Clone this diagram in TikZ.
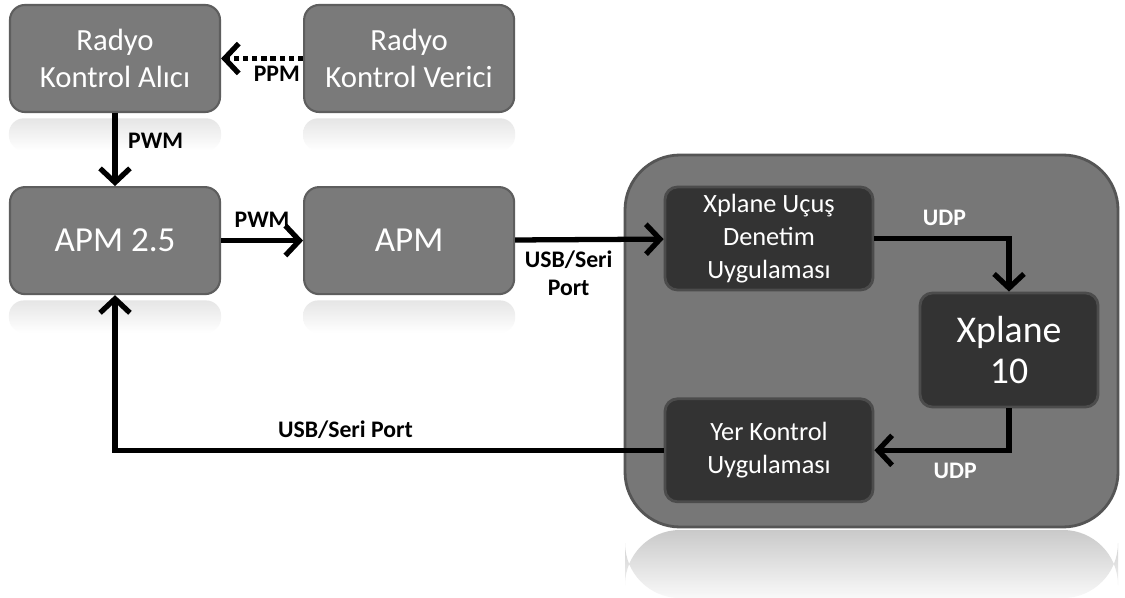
\documentclass[tikz,border=0pt]{standalone}
\usepackage{fontspec}
\setmainfont{Carlito}
\usetikzlibrary{positioning,arrows.meta}
\definecolor{boxgray}{HTML}{7A7A7A}
\definecolor{edgegray}{HTML}{5E5E5E}
\definecolor{panelgray}{HTML}{777777}
\definecolor{paneledge}{HTML}{555555}
\definecolor{appgray}{HTML}{333333}
\definecolor{appedge}{HTML}{4C4C4C}
\tikzstyle{blk}=[rectangle,draw=edgegray,line width=1.2pt,rounded corners=0.3cm,fill=boxgray,text=white,align=center,minimum width=4.2cm,minimum height=2.14cm,font=\fontsize{17.5}{21.5}\selectfont]
\tikzstyle{bigblk}=[blk,font=\fontsize{20}{24}\selectfont]
\tikzstyle{panel}=[rectangle,draw=paneledge,line width=1.6pt,rounded corners=1.1cm,fill=panelgray,minimum width=9.86cm,minimum height=7.44cm]
\tikzstyle{app}=[rectangle,draw=appedge,line width=1.6pt,rounded corners=0.25cm,fill=appgray,text=white,align=center,minimum width=4.16cm,minimum height=2.06cm,font=\fontsize{15}{18.7}\selectfont]
\tikzstyle{sim}=[app,minimum width=3.56cm,minimum height=2.28cm,font=\fontsize{21.5}{23.5}\selectfont]
\tikzstyle{arr}=[-{Straight Barb[length=8pt,width=17pt]},line width=3pt]
\tikzstyle{lbl}=[font=\fontsize{13.5}{16}\selectfont\bfseries,align=center,inner sep=1pt]
\tikzstyle{refl}=[rounded corners=0.3cm,top color=gray!20,bottom color=white]

\begin{document}
\begin{tikzpicture}[node distance=1.64cm]
\useasboundingbox[fill=white] (0,0) rectangle (22.5,-11.96);
\node[blk] (alici) at (2.3,-1.17) {Radyo\\Kontrol Alıcı};
\node[blk, right=of alici] (verici) {Radyo\\Kontrol Verici};
\node[bigblk, below=1.46cm of alici] (apm25) {APM 2.5};
\node[bigblk, right=of apm25] (apm) {APM};
\foreach \b in {alici,verici,apm25,apm}
  \shade[refl] ([yshift=-3pt]\b.south west) rectangle ([yshift=-0.75cm]\b.south east);
\shade[rounded corners=1.1cm,top color=gray!42,bottom color=gray!5] (12.5,-10.6) rectangle (22.36,-11.96);
\node[panel] (pc) at (17.43,-6.82) {};
\node[app] (ud) at (15.38,-4.77) {Xplane Uçuş\\Denetim\\Uygulaması};
\node[sim] (xp) at (20.18,-7.0) {Xplane\\10};
\node[app, below=2.12cm of ud] (yk) {Yer Kontrol\\Uygulaması};
\draw[arr, dash pattern=on 3pt off 2.2pt] (verici.west) -- node[lbl, below=2pt, pos=0.32] {PPM} (alici.east);
\draw[arr] (alici) -- node[lbl, right=5pt, pos=0.38] {PWM} (apm25);
\draw[arr] (apm25) -- node[lbl, above=5pt] {PWM} (apm);
\draw[arr] (apm) -- node[lbl, below=4pt, pos=0.36] {USB/Seri\\Port} (ud);
\draw[arr] (ud.east) -| node[lbl, text=white, above=5pt, pos=0.26] {UDP} (xp.north);
\draw[arr] (xp.south) |- node[lbl, text=white, below=5pt, pos=0.7] {UDP} (yk.east);
\draw[arr] (yk.west) -| node[lbl, above=4pt, pos=0.29] {USB/Seri Port} (apm25.south);
\end{tikzpicture}
\end{document}
